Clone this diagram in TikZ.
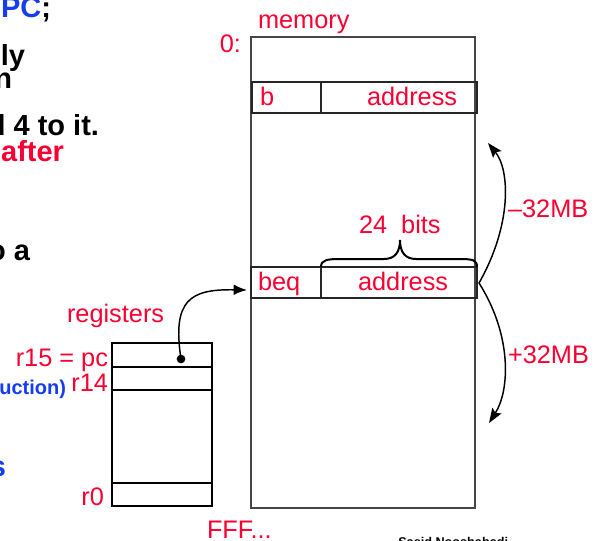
\documentclass[tikz,border=0pt]{standalone}
\usepackage{fontspec}
\setmainfont{Liberation Sans}
\usetikzlibrary{arrows.meta}
\definecolor{myred}{RGB}{250,0,50}
\definecolor{myblue}{RGB}{20,60,240}
\definecolor{boxgray}{RGB}{70,70,70}
\begin{document}
\begin{tikzpicture}[x=0.75pt,y=-0.75pt,
  lbl/.style={text=myred, font=\fontsize{19}{22}\selectfont, inner sep=0pt, outer sep=0pt},
  frag/.style={font=\fontsize{21.75}{24}\selectfont\bfseries, inner sep=0pt, outer sep=0pt, anchor=base east},
  smallfrag/.style={font=\fontsize{15}{18}\selectfont\bfseries, inner sep=0pt, outer sep=0pt, anchor=base east},
  membox/.style={draw=boxgray, line width=1.1pt},
  rowbox/.style={draw=black!85, line width=1.1pt},
  regbox/.style={draw=black, line width=1pt},
  conn/.style={draw=black, line width=1.1pt}]
\useasboundingbox (0,0) rectangle (605,540);

% left-edge fragments of the slide text
\node[frag, text=myblue] (f1) at (51,17) {PC\textcolor{black}{;}};
\node[frag] (f2) at (25,65) {ly};
\node[frag] (f3) at (12,88) {n};
\node[frag] (f4) at (99,135) {d 4 to it.};
\node[frag, text=myred] (f5) at (64,161) {after};
\node[frag] (f6) at (30,260) {o a};
\node[smallfrag, text=myblue] (f7) at (66,394) {uction)};
\node[frag, text=myblue] (f8) at (6,476) {s};

% memory
\draw[membox] (251,37) rectangle (475,508);
\node[lbl, anchor=base west] (memlbl) at (258,28) {memory};
\node[lbl, anchor=base east] (zero) at (241,52) {0:};
\node[lbl, anchor=base west] (fff) at (207,538) {FFF...};

% b row
\draw[rowbox] (252,82) rectangle (477,113);
\draw[rowbox] (321,82) -- (321,113);
\node[lbl, anchor=base west] (blbl) at (260,105) {b};
\node[lbl, anchor=base west] (baddr) at (367,105) {address};

% beq row
\draw[rowbox] (251,267) rectangle (477,298);
\draw[rowbox] (321,267) -- (321,298);
\node[lbl, anchor=base west] (beqlbl) at (258,290) {beq};
\node[lbl, anchor=base west] (beqaddr) at (358,290) {address};

% brace
\draw[conn, line width=1.5pt] (321,267) .. controls (321,260) and (327,259) .. (340,259) -- (384,259)
  .. controls (395,259) and (400,252) .. (400,240)
  .. controls (400,252) and (405,259) .. (416,259) -- (459,259)
  .. controls (473,259) and (477,260) .. (477,267);
\node[lbl, anchor=base west] (bits) at (359,233) {24\ \ bits};

% range arrow
\coordinate (rtop) at (488,143);
\coordinate (rmid) at (479,283);
\coordinate (rbot) at (489,423);
\draw[conn, {Stealth[length=11pt,width=8pt,inset=2pt]}-{Stealth[length=11pt,width=8pt,inset=2pt]}]
  (rtop) .. controls (510,170) and (512,225) .. (rmid)
  .. controls (512,335) and (510,390) .. (rbot);
\node[lbl, anchor=base west] (minus) at (508,217) {\char"2013 32MB};
\node[lbl, anchor=base west] (plus) at (508,363) {+32MB};

% registers
\draw[regbox] (112,343) rectangle (212,506);
\draw[regbox, line width=1.5pt] (112,367) -- (212,367);
\draw[regbox] (112,390) -- (212,390);
\draw[regbox] (112,483) -- (212,483);
\node[lbl, anchor=base west] (reglbl) at (67,322) {registers};
\node[lbl, anchor=base east] (r15) at (108,366) {r15 = pc};
\node[lbl, anchor=base east] (r14) at (108,391) {r14};
\node[lbl, anchor=base east] (r0) at (104,505) {r0};
\node[circle, fill=black, inner sep=0pt, minimum size=6.5pt] (pcdot) at (181,359) {};
\coordinate (beqin) at (247,290);
\draw[conn, -{Latex[length=10pt,width=8pt]}] (pcdot.center) .. controls (172,300) and (190,289) .. (beqin);

% footer (cut off)
\node[anchor=base west, inner sep=0pt, font=\fontsize{9.5}{11}\selectfont\bfseries] (author) at (398,546) {Saeid Nooshabadi};
\end{tikzpicture}
\end{document}
